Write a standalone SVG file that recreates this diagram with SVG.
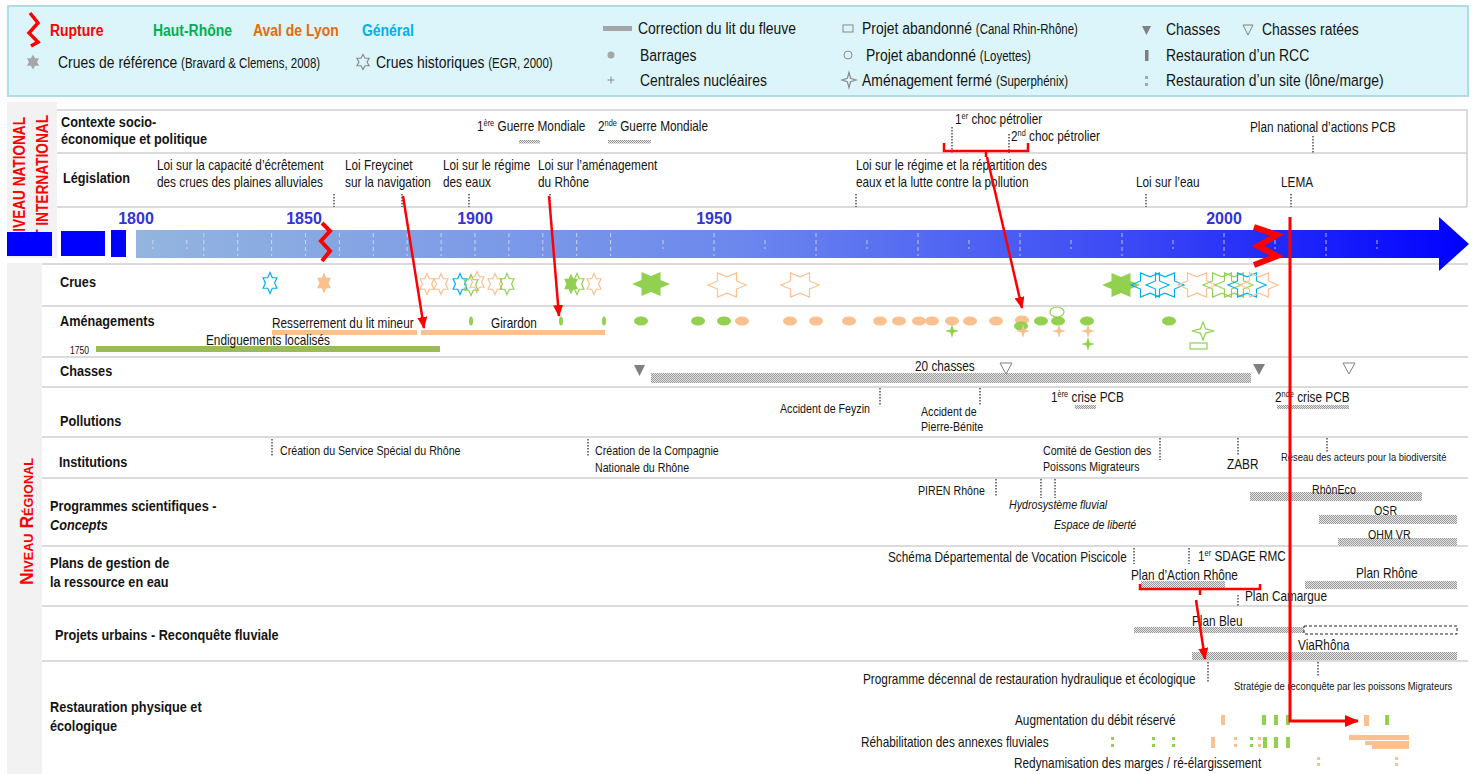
<svg xmlns="http://www.w3.org/2000/svg" width="1479" height="774" viewBox="0 0 1479 774">
<defs>
<style>
text{font-family:"Liberation Sans",Arial,sans-serif;fill:#141414;font-size:14.4px}
.lab{font-weight:bold;font-size:15.5px}
.lg{font-size:17px}
.lgs{font-size:14px}
.lgb{font-weight:bold;font-size:17px}
.sm{font-size:11.5px}
.s13{font-size:13px}
.it{font-style:italic}
.yr{font-weight:bold;font-size:16px;fill:#3434d4;text-anchor:middle}
.side{font-weight:bold;fill:#ff0000;font-size:16px}
.grid{stroke:#cfcfcf;stroke-width:1.5;fill:none}
.dot{stroke:#222;stroke-width:1.2;stroke-dasharray:1.5 1.5;fill:none}
.red{stroke:#ff0000;stroke-width:2.5;fill:none}
.zig{stroke:#ff0000;fill:none;stroke-linejoin:miter}
.hatch{fill:url(#hp)}
.og{fill:#fac090}
.gn{fill:#92d050}
.gy{fill:#a6a6a6}
.oo{fill:none;stroke:#fac090}
.go{fill:none;stroke:#92d050}
.bo{fill:none;stroke:#00b0f0}
.tick{stroke:#e4e8f4;stroke-opacity:0.75;stroke-width:1;stroke-dasharray:4 3}
</style>
<pattern id="hp" width="2" height="2" patternUnits="userSpaceOnUse">
<rect width="2" height="2" fill="#e4e4e4"/>
<rect width="1" height="1" fill="#9a9a9a"/>
<rect x="1" y="1" width="1" height="1" fill="#9a9a9a"/>
</pattern>
<linearGradient id="tl" gradientUnits="userSpaceOnUse" x1="136" y1="0" x2="1469" y2="0">
<stop offset="0" stop-color="#93b5de"/>
<stop offset="0.45" stop-color="#6c88ee"/>
<stop offset="0.75" stop-color="#3a48f5"/>
<stop offset="1" stop-color="#0000ff"/>
</linearGradient>
<polygon id="hexV" vector-effect="non-scaling-stroke" stroke-width="1.2" points="0,-10 2.89,-5 8.66,-5 5.77,0 8.66,5 2.89,5 0,10 -2.89,5 -8.66,5 -5.77,0 -8.66,-5 -2.89,-5"/>
<polygon id="hexH" vector-effect="non-scaling-stroke" stroke-width="1.2" points="-10,0 -5,2.89 -5,8.66 0,5.77 5,8.66 5,2.89 10,0 5,-2.89 5,-8.66 0,-5.77 -5,-8.66 -5,-2.89"/>
<path id="spark" vector-effect="non-scaling-stroke" stroke-width="1.2" d="M0,-7 L1.6,-1.6 L7,0 L1.6,1.6 L0,7 L-1.6,1.6 L-7,0 L-1.6,-1.6 Z"/>
<marker id="ah" markerUnits="userSpaceOnUse" markerWidth="12" markerHeight="10" refX="11" refY="5" orient="auto">
<path d="M0,0 L12,5 L0,10 Z" fill="#ff0000"/>
</marker>
<marker id="ahb" markerUnits="userSpaceOnUse" markerWidth="14" markerHeight="12" refX="13" refY="6" orient="auto">
<path d="M0,0 L14,6 L0,12 Z" fill="#ff0000"/>
</marker>
</defs>

<rect width="1479" height="774" fill="#ffffff"/>

<!-- legend (all labels set in a condensed sans: glyphs scaled to 82 % width) -->
<g id="legend">
<rect x="8" y="6" width="1460" height="90" fill="#dbf5fa" stroke="#b0dce6" stroke-width="2"/>
<polyline class="zig" stroke-width="3.5" points="30,13 38,23 29,33 38,42 31,46"/>
<text transform="translate(50 36) scale(.82 1)" class="lgb" style="fill:#ff0000">Rupture</text>
<text transform="translate(153 36) scale(.82 1)" class="lgb" style="fill:#00b050">Haut-Rhône</text>
<text transform="translate(253 36) scale(.82 1)" class="lgb" style="fill:#e46c0a">Aval de Lyon</text>
<text transform="translate(362 36) scale(.82 1)" class="lgb" style="fill:#00b0f0">Général</text>
<use href="#hexV" transform="translate(33,62) scale(0.7,0.75)" fill="#a6a6a6"/>
<text transform="translate(58 68) scale(.82 1)" class="lg">Crues de référence <tspan class="lgs">(Bravard &amp; Clemens, 2008)</tspan></text>
<use href="#hexV" transform="translate(363,62) scale(0.7,0.75)" fill="none" stroke="#8a8a8a"/>
<text transform="translate(376 68) scale(.82 1)" class="lg">Crues historiques <tspan class="lgs">(EGR, 2000)</tspan></text>

<rect x="603" y="26" width="29" height="5" class="gy"/>
<text transform="translate(638 34) scale(.82 1)" class="lg">Correction du lit du fleuve</text>
<circle cx="611" cy="55" r="3.5" class="gy"/>
<text transform="translate(640 61) scale(.82 1)" class="lg">Barrages</text>
<path d="M607.5,80 H614.5 M611,76.5 V83.5" stroke="#8a8a8a" stroke-width="1"/>
<text transform="translate(640 86) scale(.82 1)" class="lg">Centrales nucléaires</text>

<rect x="843" y="25" width="10" height="7" fill="none" stroke="#8a8a8a"/>
<text transform="translate(862 34) scale(.82 1)" class="lg">Projet abandonné <tspan class="lgs">(Canal Rhin-Rhône)</tspan></text>
<circle cx="848" cy="55" r="4" fill="none" stroke="#8a8a8a"/>
<text transform="translate(866 61) scale(.82 1)" class="lg">Projet abandonné <tspan class="lgs">(Loyettes)</tspan></text>
<use href="#spark" transform="translate(849,80) scale(1,1.1)" fill="none" stroke="#8a8a8a"/>
<text transform="translate(862 86) scale(.82 1)" class="lg">Aménagement fermé <tspan class="lgs">(Superphénix)</tspan></text>

<polygon points="1142,26 1151,26 1146.5,35" fill="#808080"/>
<text transform="translate(1166 35) scale(.82 1)" class="lg">Chasses</text>
<polygon points="1243,25 1253,25 1248,35" fill="none" stroke="#808080"/>
<text transform="translate(1262 35) scale(.82 1)" class="lg">Chasses ratées</text>
<rect x="1145" y="50" width="3.5" height="11" fill="#808080"/>
<text transform="translate(1166 61) scale(.82 1)" class="lg">Restauration d’un RCC</text>
<rect x="1145" y="76" width="3" height="3" class="gy"/>
<rect x="1145" y="83" width="3" height="3" class="gy"/>
<text transform="translate(1166 86) scale(.82 1)" class="lg">Restauration d’un site (lône/marge)</text>
</g>

<!-- side panels -->
<g id="side-national">
<rect x="7" y="102" width="50" height="156" fill="#f2f2f2"/>
<text class="side" transform="translate(25,241.5) rotate(-90)" textLength="124.5" lengthAdjust="spacingAndGlyphs">NIVEAU NATIONAL</text>
<text class="side" transform="translate(48,247) rotate(-90)" textLength="132" lengthAdjust="spacingAndGlyphs">ET INTERNATIONAL</text>
</g>
<g id="side-regional">
<rect x="7" y="263" width="35" height="511" fill="#f2f2f2"/>
<text class="side" style="font-variant:small-caps;font-size:18px" transform="translate(33,585) rotate(-90)" textLength="127" lengthAdjust="spacingAndGlyphs">Niveau Régional</text>
</g>

<!-- grid -->
<g id="grid">
<path class="grid" d="M57,110 H1467 V207 M57,153 H1467 M57,207 H1467"/>
<path class="grid" d="M42,264 H1468 M42,306 H1468 M42,357 H1468 M42,387 H1468 M42,437 H1468 M42,478 H1468 M42,546 H1468 M42,606 H1468 M42,661 H1468"/>
</g>

<!-- time axis -->
<g id="timeline">
<path d="M136,230 H1439 V217 L1469,244 L1439,271 V258 H136 Z" fill="url(#tl)"/>
<g class="tick">
<path d="M152.9,240 V249 M186.8,240 V249"/>
<path d="M203.8,233 V256 M237.7,233 V256 M271.6,233 V256 M305.5,233 V256 M339.4,233 V256 M373.3,233 V256 M407.2,233 V256 M441.1,233 V256 M475,233 V256 M508.9,233 V256 M542.8,233 V256 M576.7,233 V256 M610.6,233 V256"/>
<path d="M663,240 V249 M765,240 V249 M867,240 V249 M969,240 V249 M1071,240 V249 M1173,240 V249 M1275,240 V249 M1377,240 V249"/>
<path d="M714,233 V256 M816,233 V256 M918,233 V256 M1020,233 V256 M1122,233 V256 M1224,233 V256 M1326,233 V256"/>
</g>
<rect x="7" y="232" width="45" height="24" fill="#0000ff"/>
<rect x="61" y="231" width="44" height="25" fill="#0000ff"/>
<rect x="111" y="230" width="15" height="27" fill="#0000ff"/>
<text x="136" y="224" class="yr">1800</text>
<text x="304" y="224" class="yr">1850</text>
<text x="475" y="224" class="yr">1900</text>
<text x="714" y="224" class="yr">1950</text>
<text x="1224" y="224" class="yr">2000</text>
<polyline class="zig" stroke-width="4" points="322,223 330,231 321,241 330,251 322,261"/>
<polyline class="zig" stroke-width="6" points="1254,227 1277,235 1258,246 1277,256 1254,265"/>
</g>

<!-- socio-economic context -->
<g id="row-contexte">
<text transform="translate(61 127) scale(.82 1)" class="lab">Contexte socio-</text>
<text transform="translate(61 144) scale(.82 1)" class="lab">économique et politique</text>
<text transform="translate(477 131) scale(.82 1)">1<tspan font-size="9" dy="-5">ère</tspan><tspan dy="5"> Guerre Mondiale</tspan></text>
<rect x="519" y="140" width="21" height="3.5" class="hatch"/>
<text transform="translate(598 131) scale(.82 1)">2<tspan font-size="9" dy="-5">nde</tspan><tspan dy="5"> Guerre Mondiale</tspan></text>
<rect x="608" y="140" width="43" height="3.5" class="hatch"/>
<text transform="translate(955 124) scale(.82 1)">1<tspan font-size="9" dy="-5">er</tspan><tspan dy="5"> choc pétrolier</tspan></text>
<path class="dot" d="M952,127 V153"/>
<text transform="translate(1011 141) scale(.82 1)">2<tspan font-size="9" dy="-5">nd</tspan><tspan dy="5"> choc pétrolier</tspan></text>
<path class="dot" d="M1009,134 V153"/>
<text transform="translate(1250 132) scale(.82 1)">Plan national d’actions PCB</text>
<path class="dot" d="M1313,136 V153"/>
</g>

<!-- legislation -->
<g id="row-legislation">
<text transform="translate(63 183) scale(.82 1)" class="lab">Législation</text>
<text transform="translate(157 170) scale(.82 1)">Loi sur la capacité d’écrêtement</text>
<text transform="translate(157 187) scale(.82 1)">des crues des plaines alluviales</text>
<path class="dot" d="M334,194 V207"/>
<text transform="translate(345 170) scale(.82 1)">Loi Freycinet</text>
<text transform="translate(345 187) scale(.82 1)">sur la navigation</text>
<path class="dot" d="M402,194 V207"/>
<text transform="translate(443 170) scale(.82 1)">Loi sur le régime</text>
<text transform="translate(443 187) scale(.82 1)">des eaux</text>
<path class="dot" d="M469,194 V207"/>
<text transform="translate(538 170) scale(.82 1)">Loi sur l’aménagement</text>
<text transform="translate(538 187) scale(.82 1)">du Rhône</text>
<path class="dot" d="M550,194 V207"/>
<text transform="translate(856 170) scale(.82 1)">Loi sur le régime et la répartition des</text>
<text transform="translate(856 187) scale(.82 1)">eaux et la lutte contre la pollution</text>
<path class="dot" d="M856,194 V207"/>
<text transform="translate(1136 187) scale(.82 1)">Loi sur l’eau</text>
<path class="dot" d="M1146,194 V207"/>
<text transform="translate(1281 187) scale(.82 1)">LEMA</text>
<path class="dot" d="M1291,194 V207"/>
</g>

<!-- floods -->
<g id="row-crues">
<text transform="translate(60 287) scale(.82 1)" class="lab">Crues</text>
<use href="#hexV" transform="translate(270,283) scale(0.8,1.05)" class="bo"/>
<use href="#hexV" transform="translate(324,283) scale(0.8,1.05)" class="og"/>
<use href="#hexV" transform="translate(427,284) scale(0.8,1.05)" class="oo"/>
<use href="#hexV" transform="translate(441,284) scale(0.8,1.05)" class="oo"/>
<use href="#hexV" transform="translate(460,284) scale(0.8,1.05)" class="bo"/>
<use href="#hexV" transform="translate(477,282) scale(0.8,1.05)" class="oo"/>
<use href="#hexV" transform="translate(471,285) scale(0.8,1.05)" class="go"/>
<use href="#hexV" transform="translate(495,284) scale(0.8,1.05)" class="oo"/>
<use href="#hexV" transform="translate(507,284) scale(0.8,1.05)" class="go"/>
<use href="#hexV" transform="translate(571,284) scale(0.8,1.05)" class="gn"/>
<use href="#hexV" transform="translate(577,284) scale(0.8,1.05)" class="go"/>
<use href="#hexV" transform="translate(594,284) scale(0.8,1.05)" class="oo"/>
<use href="#hexH" transform="translate(651,284) scale(1.9,1.4)" class="gn"/>
<use href="#hexH" transform="translate(727,285) scale(1.9,1.4)" class="oo"/>
<use href="#hexH" transform="translate(800,285) scale(1.9,1.4)" class="oo"/>
<use href="#hexH" transform="translate(1121,285) scale(1.9,1.4)" class="gn"/>
<use href="#hexH" transform="translate(1150,285) scale(1.9,1.4)" class="bo"/>
<use href="#hexH" transform="translate(1165,285) scale(1.9,1.4)" class="bo"/>
<use href="#hexH" transform="translate(1197,285) scale(1.9,1.4)" class="oo"/>
<use href="#hexH" transform="translate(1222,285) scale(1.9,1.4)" class="go"/>
<use href="#hexH" transform="translate(1234,285) scale(1.9,1.4)" class="go"/>
<use href="#hexH" transform="translate(1247,285) scale(1.9,1.4)" class="bo"/>
<use href="#hexH" transform="translate(1259,285) scale(1.9,1.4)" class="oo"/>
</g>

<!-- river works -->
<g id="row-amenagements">
<text transform="translate(60 326) scale(.82 1)" class="lab">Aménagements</text>
<rect x="272" y="330" width="145" height="5" class="og"/>
<rect x="421" y="330" width="184" height="5" class="og"/>
<text transform="translate(272 328) scale(.82 1)">Resserrement du lit mineur</text>
<text transform="translate(491 328) scale(.82 1)">Girardon</text>
<rect x="96" y="346" width="344" height="6" fill="#9bbb59"/>
<text transform="translate(206 345) scale(.82 1)">Endiguements localisés</text>
<text transform="translate(70 354) scale(.82 1)" style="font-size:10.5px">1750</text>
<ellipse cx="471" cy="321" rx="2" ry="4.5" class="gn"/>
<ellipse cx="561" cy="321" rx="2" ry="4.5" class="gn"/>
<ellipse cx="604" cy="321" rx="2" ry="4.5" class="gn"/>
<g class="gn">
<ellipse cx="641" cy="321" rx="7" ry="4.5"/>
<ellipse cx="698" cy="321" rx="7" ry="4.5"/>
<ellipse cx="724" cy="321" rx="7" ry="4.5"/>
</g>
<g class="og">
<ellipse cx="742" cy="321" rx="7" ry="4.5"/>
<ellipse cx="790" cy="321" rx="7" ry="4.5"/>
<ellipse cx="816" cy="321" rx="7" ry="4.5"/>
<ellipse cx="849" cy="321" rx="7" ry="4.5"/>
<ellipse cx="880" cy="321" rx="7" ry="4.5"/>
<ellipse cx="899" cy="321" rx="7" ry="4.5"/>
<ellipse cx="919" cy="321" rx="7" ry="4.5"/>
<ellipse cx="932" cy="321" rx="7" ry="4.5"/>
<ellipse cx="952" cy="321" rx="7" ry="4.5"/>
<ellipse cx="970" cy="321" rx="7" ry="4.5"/>
<ellipse cx="996" cy="321" rx="7" ry="4.5"/>
<ellipse cx="1022" cy="320" rx="7" ry="4.5"/>
</g>
<g class="gn">
<ellipse cx="1021" cy="326" rx="7" ry="4.5"/>
<ellipse cx="1041" cy="321" rx="7" ry="4.5"/>
<ellipse cx="1058" cy="321" rx="7" ry="4.5"/>
<ellipse cx="1087" cy="321" rx="7" ry="4.5"/>
<ellipse cx="1169" cy="321" rx="7" ry="4.5"/>
</g>
<ellipse cx="1057" cy="312" rx="7" ry="5" fill="#ffffff" stroke="#92d050" stroke-width="1.2"/>
<use href="#spark" transform="translate(952,331)" class="gn"/>
<use href="#spark" transform="translate(1023,331)" class="og"/>
<use href="#spark" transform="translate(1059,331)" class="og"/>
<use href="#spark" transform="translate(1088,331)" class="og"/>
<use href="#spark" transform="translate(1088,344)" class="gn"/>
<use href="#spark" transform="translate(1203,331) scale(1.6,1.3)" fill="#ffffff" stroke="#92d050"/>
<rect x="1190" y="343" width="17" height="6" fill="none" stroke="#92d050" stroke-width="1.2"/>
</g>

<!-- flushing -->
<g id="row-chasses">
<text transform="translate(60 376) scale(.82 1)" class="lab">Chasses</text>
<polygon points="634,365 645,365 639.5,376" fill="#808080"/>
<rect x="651" y="373" width="600" height="10" class="hatch"/>
<text transform="translate(915 371) scale(.82 1)">20 chasses</text>
<polygon points="1000,363 1012,363 1006,374" fill="#ffffff" stroke="#808080"/>
<polygon points="1253,364 1265,364 1259,375" fill="#808080"/>
<polygon points="1343,363 1355,363 1349,374" fill="#ffffff" stroke="#808080"/>
</g>

<!-- pollution -->
<g id="row-pollutions">
<text transform="translate(60 426) scale(.82 1)" class="lab">Pollutions</text>
<text transform="translate(780 413) scale(.82 1)" class="s13">Accident de Feyzin</text>
<path class="dot" d="M880,388 V405"/>
<text transform="translate(921 416) scale(.82 1)" class="s13">Accident de</text>
<text transform="translate(921 431) scale(.82 1)" class="s13">Pierre-Bénite</text>
<path class="dot" d="M980,388 V405"/>
<text transform="translate(1051 402) scale(.82 1)">1<tspan font-size="9" dy="-5">ère</tspan><tspan dy="5"> crise PCB</tspan></text>
<rect x="1075" y="405" width="21" height="4" class="hatch"/>
<text transform="translate(1275 402) scale(.82 1)">2<tspan font-size="9" dy="-5">nde</tspan><tspan dy="5"> crise PCB</tspan></text>
<rect x="1277" y="405" width="72" height="4" class="hatch"/>
</g>

<!-- institutions -->
<g id="row-institutions">
<text transform="translate(59 467) scale(.82 1)" class="lab">Institutions</text>
<path class="dot" d="M272,439 V456"/>
<text transform="translate(280 455) scale(.82 1)" class="s13">Création du Service Spécial du Rhône</text>
<path class="dot" d="M588,439 V456"/>
<text transform="translate(595 455) scale(.82 1)" class="s13">Création de la Compagnie</text>
<text transform="translate(595 472) scale(.82 1)" class="s13">Nationale du Rhône</text>
<text transform="translate(1043 455) scale(.82 1)" class="s13">Comité de Gestion des</text>
<text transform="translate(1043 471) scale(.82 1)" class="s13">Poissons Migrateurs</text>
<path class="dot" d="M1160,438 V460"/>
<text transform="translate(1227 469) scale(.82 1)">ZABR</text>
<path class="dot" d="M1238,438 V455"/>
<text transform="translate(1281 461) scale(.82 1)" class="sm">Réseau des acteurs pour la biodiversité</text>
<path class="dot" d="M1327,438 V452"/>
</g>

<!-- research programmes -->
<g id="row-programmes">
<text transform="translate(50 511) scale(.82 1)" class="lab">Programmes scientifiques -</text>
<text transform="translate(50 530) scale(.82 1)" class="lab it">Concepts</text>
<text transform="translate(918 495) scale(.82 1)" class="s13">PIREN Rhône</text>
<path class="dot" d="M996,479 V497"/>
<path class="dot" d="M1041,479 V498 M1055,479 V498"/>
<text transform="translate(1009 509) scale(.82 1)" class="s13 it">Hydrosystème fluvial</text>
<text transform="translate(1054 529) scale(.82 1)" class="s13 it">Espace de liberté</text>
<rect x="1250" y="492" width="172" height="9" class="hatch"/>
<text transform="translate(1312 494) scale(.82 1)" class="s13">RhônEco</text>
<rect x="1319" y="515" width="138" height="9" class="hatch"/>
<text transform="translate(1374 515) scale(.82 1)" class="s13">OSR</text>
<rect x="1338" y="538" width="119" height="8" class="hatch"/>
<text transform="translate(1368 539) scale(.82 1)" class="s13">OHM VR</text>
</g>

<!-- water management plans -->
<g id="row-plans">
<text transform="translate(50 568) scale(.82 1)" class="lab">Plans de gestion de</text>
<text transform="translate(50 587) scale(.82 1)" class="lab">la ressource en eau</text>
<text transform="translate(888 562) scale(.82 1)">Schéma Départemental de Vocation Piscicole</text>
<path class="dot" d="M1134,548 V564"/>
<path class="dot" d="M1189,548 V564"/>
<text transform="translate(1198 561) scale(.82 1)">1<tspan font-size="9" dy="-5">er</tspan><tspan dy="5"> SDAGE RMC</tspan></text>
<rect x="1141" y="581" width="84" height="7" class="hatch"/>
<text transform="translate(1131 580) scale(.82 1)">Plan d’Action Rhône</text>
<path class="dot" d="M1238,595 V607"/>
<text transform="translate(1245 601) scale(.82 1)">Plan Camargue</text>
<rect x="1305" y="581" width="152" height="8" class="hatch"/>
<text transform="translate(1356 578) scale(.82 1)">Plan Rhône</text>
</g>

<!-- urban projects -->
<g id="row-projets">
<text transform="translate(55 640) scale(.82 1)" class="lab">Projets urbains - Reconquête fluviale</text>
<rect x="1134" y="627" width="170" height="6" class="hatch"/>
<text transform="translate(1192 626) scale(.82 1)">Plan Bleu</text>
<rect x="1304" y="626" width="153" height="8" fill="none" stroke="#222" stroke-width="1" stroke-dasharray="3 2"/>
<rect x="1192" y="652" width="265" height="8" class="hatch"/>
<text transform="translate(1298 650) scale(.82 1)">ViaRhôna</text>
</g>

<!-- restoration -->
<g id="row-restauration">
<text transform="translate(50 712) scale(.82 1)" class="lab">Restauration physique et</text>
<text transform="translate(50 731) scale(.82 1)" class="lab">écologique</text>
<path class="dot" d="M1208,662 V682"/>
<text transform="translate(863 684) scale(.82 1)">Programme décennal de restauration hydraulique et écologique</text>
<path class="dot" d="M1318,662 V677"/>
<text transform="translate(1234 690) scale(.82 1)" class="sm">Stratégie de reconquête par les poissons Migrateurs</text>
<text transform="translate(1015 725) scale(.82 1)">Augmentation du débit réservé</text>
<rect x="1221" y="715" width="4" height="10" class="og"/>
<rect x="1262" y="715" width="4" height="10" class="gn"/>
<rect x="1274" y="715" width="4" height="10" class="gn"/>
<rect x="1286" y="715" width="4" height="10" class="gn"/>
<rect x="1364" y="715" width="5" height="11" class="og"/>
<rect x="1385" y="715" width="4" height="10" class="gn"/>
<text transform="translate(861 747) scale(.82 1)">Réhabilitation des annexes fluviales</text>
<g class="gn">
<rect x="1111" y="737" width="3" height="3"/><rect x="1111" y="744" width="3" height="3"/>
<rect x="1152" y="737" width="3" height="3"/><rect x="1152" y="744" width="3" height="3"/>
<rect x="1172" y="737" width="3" height="3"/><rect x="1172" y="744" width="3" height="3"/>
<rect x="1250" y="737" width="3" height="3"/><rect x="1250" y="744" width="3" height="3"/>
<rect x="1263" y="737" width="4" height="11"/>
<rect x="1274" y="737" width="4" height="11"/>
<rect x="1286" y="737" width="4" height="11"/>
</g>
<g class="og">
<rect x="1211" y="737" width="4" height="11"/>
<rect x="1234" y="737" width="3" height="3"/><rect x="1234" y="744" width="3" height="3"/>
<rect x="1258" y="737" width="3" height="3"/><rect x="1258" y="744" width="3" height="3"/>
<rect x="1349" y="735" width="60" height="5"/>
<rect x="1365" y="741" width="44" height="4"/>
<rect x="1372" y="745" width="37" height="4"/>
<rect x="1317" y="757" width="3" height="3"/><rect x="1317" y="763" width="3" height="3"/>
<rect x="1395" y="757" width="3" height="3"/><rect x="1395" y="763" width="3" height="3"/>
</g>
<text transform="translate(1014 768) scale(.82 1)">Redynamisation des marges / ré-élargissement</text>
</g>

<!-- connectors -->
<g id="connectors">
<path class="red" d="M944,143 V151 H1028 V143 M986,151 V157"/>
<path class="red" d="M1140,584 V589 H1260 V584 M1200,589 V595"/>
<path class="red" d="M403,196 L424,328" marker-end="url(#ah)"/>
<path class="red" d="M549,196 L559,316" marker-end="url(#ah)"/>
<path class="red" d="M987,157 L1022,308" marker-end="url(#ah)"/>
<path class="red" d="M1196,600 L1205,659" marker-end="url(#ah)"/>
<path class="red" style="stroke-width:3" d="M1290,217 V721 H1358" marker-end="url(#ahb)"/>
</g>
</svg>
